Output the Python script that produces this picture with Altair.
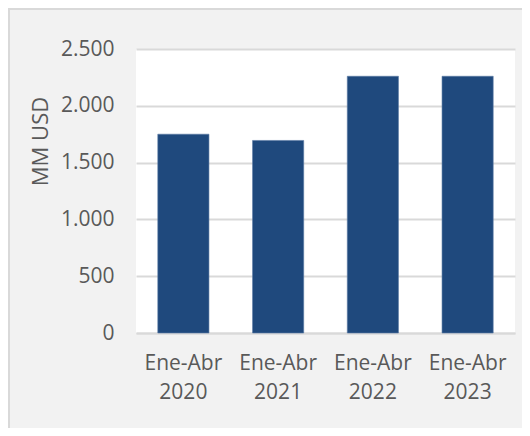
import altair as alt
import pandas as pd

categories = ["Ene-Abr\n2020", "Ene-Abr\n2021", "Ene-Abr\n2022", "Ene-Abr\n2023"]
values = [1750, 1695, 2260, 2260]
y_ticks = [0, 500, 1000, 1500, 2000, 2500]

df = pd.DataFrame({"periodo": categories, "valor": values})

FONT = "Open Sans"
GREY_TXT = "#595959"
GRID = "#D9D9D9"

bars = alt.Chart(df).mark_bar(color="#1F497D", stroke="#5A7AA5", strokeWidth=0.6).encode(
    x=alt.X(
        "periodo:N",
        sort=categories,
        scale=alt.Scale(paddingInner=0.46, paddingOuter=0.23),
        axis=alt.Axis(
            title=None,
            labelAngle=0,
            labelExpr="split(datum.label, '\\n')",
            labelFontSize=21,
            labelFont=FONT,
            labelColor=GREY_TXT,
            labelLineHeight=29,
            labelPadding=19,
            ticks=False,
            domain=True,
            domainColor=GRID,
            domainWidth=2,
            grid=False,
        ),
    ),
    y=alt.Y(
        "valor:Q",
        scale=alt.Scale(domain=[0, 2500], nice=False),
        axis=alt.Axis(
            title="MM USD",
            titleFont=FONT,
            titleFontSize=22,
            titleFontWeight="normal",
            titleColor=GREY_TXT,
            titleAngle=-90,
            titleAlign="center",
            titleBaseline="middle",
            titleX=-96,
            titleY=92,
            values=y_ticks,
            labelExpr="replace(format(datum.value, ','), ',', '.')",
            labelFontSize=21,
            labelFont=FONT,
            labelColor=GREY_TXT,
            labelPadding=22,
            ticks=False,
            domain=False,
            grid=True,
            gridColor=GRID,
            gridWidth=2,
        ),
    ),
)

frame = alt.Chart(pd.DataFrame({"a": [0]})).mark_rect(
    fill=None, stroke=GRID, strokeWidth=2
).encode(
    x=alt.value(-127), x2=alt.value(420),
    y=alt.value(-40), y2=alt.value(420),
)

chart = alt.layer(frame, bars).properties(
    width=379,
    height=284,
    background="#F2F2F2",
    padding={"left": 128, "top": 41, "right": 7, "bottom": 95},
    autosize=alt.AutoSizeParams(type="none"),
).configure_view(fill="white", stroke=None)

chart.save("out.html", embed_options={"renderer": "svg", "actions": False})
